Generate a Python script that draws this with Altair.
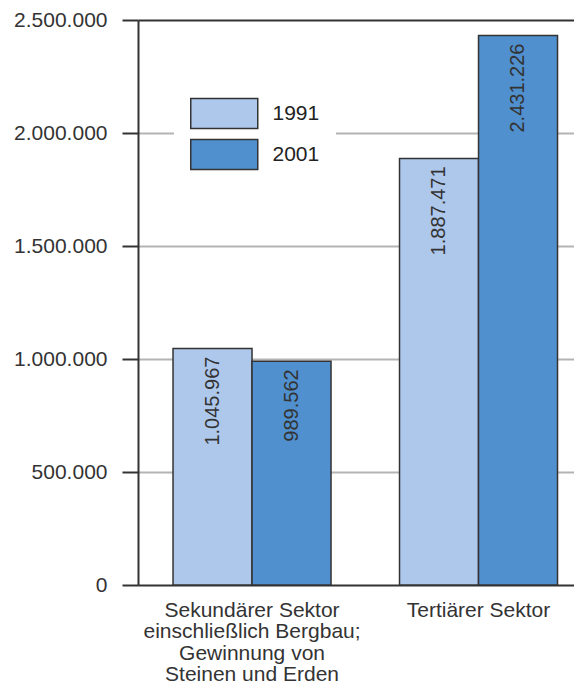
import altair as alt
import pandas as pd

categories = [
    "Sekundärer Sektor\neinschließlich Bergbau;\nGewinnung von\nSteinen und Erden",
    "Tertiärer Sektor",
]
years = ["1991", "2001"]
values_1991 = [1045967, 1887471]
values_2001 = [989562, 2431226]
y_ticks = [0, 500000, 1000000, 1500000, 2000000, 2500000]
colors = ["#aec8ec", "#5090ce"]

rows = []
for i, c in enumerate(categories):
    for y, vals in zip(years, [values_1991, values_2001]):
        v = vals[i]
        rows.append({"sector": c, "year": y, "value": v,
                     "label": f"{v:,}".replace(",", ".")})
df = pd.DataFrame(rows)

FONT = "Liberation Sans"

x = alt.X("sector:N", sort=categories, title=None,
          scale=alt.Scale(paddingInner=0.3024, paddingOuter=0.1137, align=0.68),
          axis=alt.Axis(labelAngle=0, domain=False, ticks=False,
                        labelExpr="split(datum.label, '\\n')",
                        labelFontSize=21, labelLineHeight=21.5, labelPadding=14,
                        labelLimit=400, labelColor="#333", labelFont=FONT))
xo = alt.XOffset("year:N", sort=years,
                 scale=alt.Scale(paddingInner=0, paddingOuter=0))
y = alt.Y("value:Q", title=None,
          scale=alt.Scale(domain=[0, 2500000], nice=False),
          axis=alt.Axis(values=y_ticks,
                        labelExpr="replace(format(datum.value, ','), regexp(',', 'g'), '.')",
                        labelFontSize=21, labelColor="#333", labelFont=FONT,
                        labelPadding=15, tickSize=16, tickColor="#333", tickWidth=2,
                        domainColor="#333", domainWidth=2,
                        grid=True,
                        gridColor={"condition": {"test": "datum.value === 0 || datum.value === 2500000",
                                                 "value": "#333"},
                                   "value": "#b4b4b4"},
                        gridWidth=2))

bars = alt.Chart(df).mark_bar(stroke="#333", strokeWidth=1.5).encode(
    x=x, xOffset=xo, y=y,
    color=alt.Color("year:N", sort=years,
                    scale=alt.Scale(domain=years, range=colors),
                    legend=alt.Legend(
                        title=None, orient="none", legendX=36, legendY=60,
                        symbolType="M-1,-0.9L3,-0.9L3,0.9L-1,0.9Z",
                        symbolSize=1122.25, symbolStrokeColor="#333",
                        symbolStrokeWidth=1.5, symbolOpacity=1,
                        labelFontSize=21, labelFont=FONT, labelColor="#222",
                        labelOffset=47.5, rowPadding=4, padding=16,
                        fillColor="white")),
)

text = alt.Chart(df).mark_text(angle=270, align="right", baseline="middle",
                               dx=-8, fontSize=20, font=FONT, color="#333").encode(
    x=alt.X("sector:N", sort=categories), xOffset=xo,
    y=alt.Y("value:Q"), text="label:N",
)

chart = alt.layer(bars, text).properties(
    width=436, height=565,
    autosize=alt.AutoSizeParams(type="none"),
    padding={"left": 130, "top": 12, "right": 0, "bottom": 100},
).configure_view(stroke=None)

chart.save("out.html", embed_options={"renderer": "svg", "actions": False})
